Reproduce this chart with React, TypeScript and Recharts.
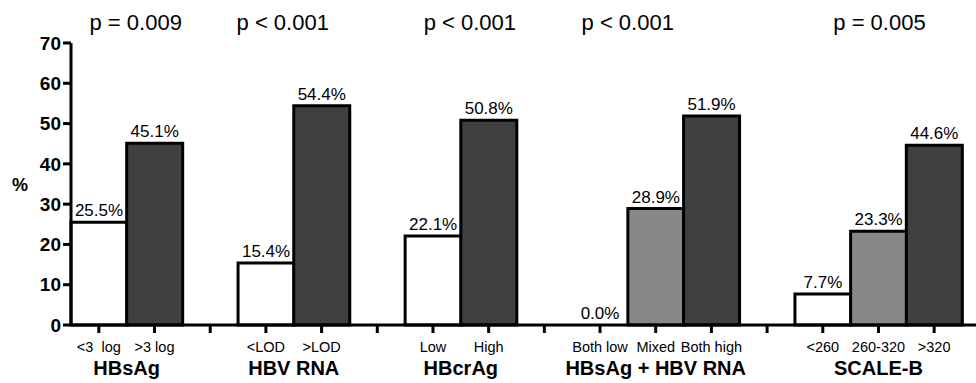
import { Bar, BarChart, Cell, LabelList, ReferenceDot, XAxis, YAxis } from "recharts";

// one slot per bar; empty slots separate the groups
const categories = [
  "<3  log", ">3 log", "",
  "<LOD", ">LOD", "",
  "Low", "High", "",
  "Both low", "Mixed", "Both high", "",
  "<260", "260-320", ">320",
];
const percentages = [
  25.5, 45.1, null,
  15.4, 54.4, null,
  22.1, 50.8, null,
  0.0, 28.9, 51.9, null,
  7.7, 23.3, 44.6,
];
const shades = [
  "low", "high", "",
  "low", "high", "",
  "low", "high", "",
  "low", "mid", "high", "",
  "low", "mid", "high",
];
const groupNames = ["HBsAg", "HBV RNA", "HBcrAg", "HBsAg + HBV RNA", "SCALE-B"];
const groupStart = [0, 3, 6, 9, 13];
const groupSize = [2, 2, 2, 3, 3];
const pValues = ["p = 0.009", "p < 0.001", "p < 0.001", "p < 0.001", "p = 0.005"];
const yTicks = [0, 10, 20, 30, 40, 50, 60, 70];

const shadeColor: Record<string, string> = {
  low: "#ffffff",
  mid: "#888888",
  high: "#404040",
};

const W = 976;
const H = 383;
const LEFT = 71;
const TOP = 43;
const XH = 58;
const PAD_R = 14;
const FONT = "'Liberation Sans', Arial, Helvetica, sans-serif";

const slotW = (W - LEFT - PAD_R) / categories.length;
const slotCenter = (i: number) => LEFT + (i + 0.5) * slotW;
// p-values are not quite centred over their groups in the original
const pNudge = [9, -11, 9, -28, 1];

const data = categories.map((c, i) => ({
  cat: c,
  slot: `s${i}`,
  pct: percentages[i],
  shade: shades[i],
}));

const fmtPct = (v: any) => (v == null ? "" : `${Number(v).toFixed(1)}%`);

function CatTick(props: any) {
  const { x, y, payload } = props;
  const label = categories[payload.index] ?? "";
  return (
    <text
      x={x}
      y={y + 17}
      textAnchor="middle"
      fontSize={14.5}
      fill="#000"
      style={{ whiteSpace: "pre", fontFamily: FONT }}
    >
      {label}
    </text>
  );
}

export default function App() {
  return (
    <div style={{ position: "relative", width: W, height: H, fontFamily: FONT }}>
      <style>{`body{margin:0}`}</style>
      <BarChart
        width={W}
        height={H}
        data={data}
        margin={{ top: TOP, right: 0, left: 0, bottom: 0 }}
        barCategoryGap={0}
        barGap={0}
      >
        <XAxis
          dataKey="slot"
          height={XH}
          interval={0}
          padding={{ left: 0, right: PAD_R }}
          axisLine={{ stroke: "#000", strokeWidth: 3 }}
          tickLine={{ stroke: "#000", strokeWidth: 3 }}
          tickSize={8}
          tickMargin={2}
          tick={<CatTick />}
        />
        <YAxis
          width={LEFT}
          domain={[0, 70]}
          ticks={yTicks}
          interval={0}
          axisLine={{ stroke: "#000", strokeWidth: 3 }}
          tickLine={{ stroke: "#000", strokeWidth: 3 }}
          tickSize={8}
          tickMargin={2}
          tick={{ fill: "#000", fontSize: 19, fontWeight: 700, fontFamily: FONT }}
        />
        <Bar
          dataKey="pct"
          stroke="#000"
          strokeWidth={3}
          isAnimationActive={false}
        >
          {data.map((d, i) => (
            <Cell key={i} fill={shadeColor[d.shade] ?? "none"} />
          ))}
          <LabelList
            dataKey="pct"
            position="top"
            offset={6}
            fill="#000"
            fontSize={17}
            fontFamily={FONT}
            formatter={fmtPct}
          />
        </Bar>
        {/* zero-height bars get no label from LabelList */}
        {data
          .filter((d) => d.pct === 0)
          .map((d) => (
            <ReferenceDot
              key={d.slot}
              x={d.slot}
              y={d.pct as number}
              r={0}
              fill="none"
              stroke="none"
              label={{
                value: fmtPct(d.pct),
                position: "top",
                offset: 6,
                fill: "#000",
                fontSize: 17,
                fontFamily: FONT,
              }}
            />
          ))}
      </BarChart>

      <div
        style={{
          position: "absolute",
          left: 20,
          top: 185,
          transform: "translate(-50%, -50%)",
          fontSize: 18,
          fontWeight: 700,
        }}
      >
        %
      </div>

      {groupNames.map((g, k) => {
        const mid = (slotCenter(groupStart[k]) + slotCenter(groupStart[k] + groupSize[k] - 1)) / 2;
        return (
          <div key={g}>
            <div
              style={{
                position: "absolute",
                left: mid + pNudge[k],
                top: 23,
                transform: "translate(-50%, -50%)",
                fontSize: 22,
                whiteSpace: "nowrap",
              }}
            >
              {pValues[k]}
            </div>
            <div
              style={{
                position: "absolute",
                left: mid,
                top: 368,
                transform: "translate(-50%, -50%)",
                fontSize: 20,
                fontWeight: 700,
                whiteSpace: "nowrap",
              }}
            >
              {g}
            </div>
          </div>
        );
      })}
    </div>
  );
}
